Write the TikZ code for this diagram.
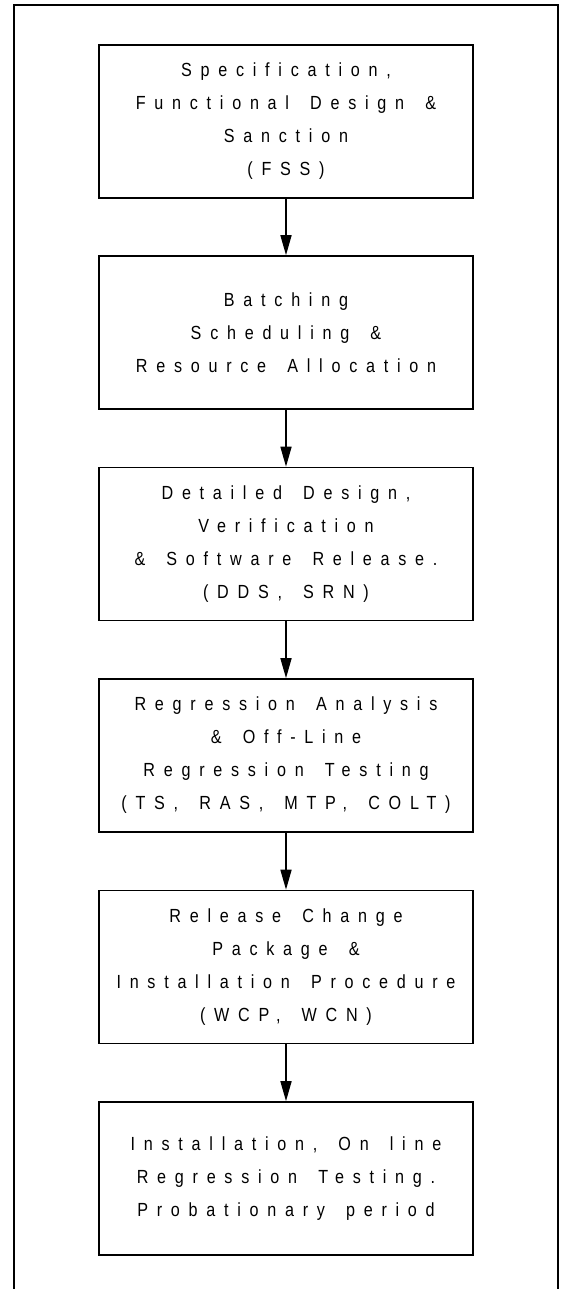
\documentclass[tikz,border=0pt]{standalone}
\usepackage{fontspec}
\newfontfamily\boxfont[LetterSpace=46,FakeStretch=0.85,WordSpace=1.6]{Liberation Sans}
\usetikzlibrary{arrows.meta}
\begin{document}
\begin{tikzpicture}[x=1pt,y=-1pt,
  stagebox/.style={draw=black, line width=1.6pt, minimum width=374pt, minimum height=153pt,
    inner sep=0pt, align=center, font=\boxfont\fontsize{19}{33}\selectfont},
  flowarrow/.style={line width=1.6pt, -{Triangle[length=20pt,width=11pt]}},
  outerframe/.style={line width=2.4pt, line cap=rect}]
\useasboundingbox (0,0) rectangle (563,1289);
\coordinate (fbl) at (14,1289);
\coordinate (ftl) at (14,5);
\coordinate (ftr) at (558,5);
\coordinate (fbr) at (558,1289);
\draw[outerframe] (fbl) -- (ftl) -- (ftr) -- (fbr);
\node[stagebox] (b1) at (286,121.5) {Specification,\\Functional Design \&\\Sanction\\(FSS)};
\node[stagebox] (b2) at (286,332.5) {Batching\\Scheduling \&\\Resource Allocation};
\node[stagebox] (b3) at (286,544) {Detailed Design,\\Verification\\\& Software Release.\\(DDS, SRN)};
\node[stagebox] (b4) at (286,755.5) {Regression Analysis\\\& Off-Line\\Regression Testing\\(TS, RAS, MTP, COLT)};
\node[stagebox] (b5) at (286,967) {Release Change\\Package \&\\Installation Procedure\\(WCP, WCN)};
\node[stagebox] (b6) at (286,1178.5) {Installation, On line\\Regression Testing.\\Probationary period};
\draw[flowarrow] (b1.south) -- (b2.north);
\draw[flowarrow] (b2.south) -- (b3.north);
\draw[flowarrow] (b3.south) -- (b4.north);
\draw[flowarrow] (b4.south) -- (b5.north);
\draw[flowarrow] (b5.south) -- (b6.north);
\end{tikzpicture}
\end{document}
